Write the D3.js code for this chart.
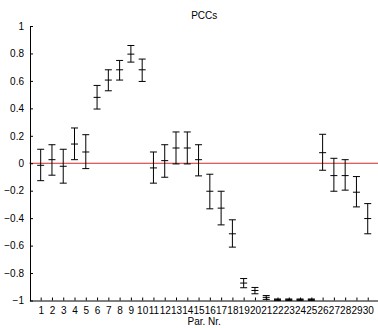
<!DOCTYPE html>
<html>
<head>
<meta charset="utf-8">
<script src="https://cdn.jsdelivr.net/npm/d3@7"></script>
<style>
  html, body { margin: 0; padding: 0; background: #fff; }
  svg { display: block; }
  text { font-family: "Liberation Sans", Arial, sans-serif; fill: #000; }
</style>
</head>
<body>
<svg id="chart" width="378" height="328"></svg>
<script>
const params = d3.range(1, 31);
const means = [-0.015, 0.026, -0.022, 0.140, 0.082, 0.480, 0.606, 0.681, 0.795, 0.681,
               -0.034, 0.019, 0.111, 0.111, 0.026, -0.204, -0.327, -0.514, -0.873, -0.927,
               -0.977, -0.994, -0.994, -0.994, -0.994, 0.077, -0.090, -0.090, -0.211, -0.403];
const upper = [0.102, 0.135, 0.102, 0.257, 0.208, 0.567, 0.681, 0.749, 0.858, 0.759,
               0.082, 0.135, 0.228, 0.228, 0.135, -0.080, -0.204, -0.412, -0.840, -0.905,
               -0.964, -0.989, -0.989, -0.989, -0.989, 0.211, 0.036, 0.026, -0.097, -0.294];
const lower = [-0.127, -0.087, -0.145, 0.026, -0.039, 0.395, 0.528, 0.606, 0.737, 0.596,
               -0.145, -0.102, -0.005, -0.005, -0.092, -0.332, -0.449, -0.611, -0.907, -0.951,
               -0.992, -0.999, -0.999, -0.999, -0.999, -0.051, -0.204, -0.196, -0.318, -0.514];
const yTicks = [-1, -0.8, -0.6, -0.4, -0.2, 0, 0.2, 0.4, 0.6, 0.8, 1];
const title = "PCCs";
const xLabel = "Par. Nr.";

const svg = d3.select("#chart");
const x = d3.scaleLinear().domain([0, 31]).range([29.4, 379]);
const y = d3.scaleLinear().domain([-1, 1]).range([300.5, 26]);

// zero reference line
svg.append("line")
  .attr("x1", x(0)).attr("x2", x(31))
  .attr("y1", y(0)).attr("y2", y(0))
  .attr("stroke", "#d42a2a").attr("stroke-width", 1);

// y axis (ticks inward)
const yAxis = d3.axisLeft(y).tickValues(yTicks).tickSizeInner(-3).tickSizeOuter(0)
  .tickPadding(6).tickFormat(d => d === 0 ? "0" : d3.format("")(+d.toFixed(1)));
const gy = svg.append("g").attr("transform", `translate(${x(0) + 0.6},0)`).call(yAxis);
gy.select(".domain").attr("stroke", "#000");
gy.selectAll(".tick line").attr("stroke", "#000");
gy.selectAll("text").attr("font-size", 10).attr("font-family", "Liberation Sans, Arial, sans-serif").attr("fill", "#000");

// x axis (ticks inward)
const xAxis = d3.axisBottom(x).tickValues(params).tickSizeInner(-3).tickSizeOuter(0)
  .tickPadding(6).tickFormat(d3.format("d"));
const gx = svg.append("g").attr("transform", `translate(0,${y(-1)})`).call(xAxis);
gx.select(".domain").attr("stroke", "#000");
gx.selectAll(".tick line").attr("stroke", "#000");
gx.selectAll("text").attr("font-size", 10).attr("font-family", "Liberation Sans, Arial, sans-serif").attr("fill", "#000");

// error bars
const cap = 3.5;
const bars = svg.append("g").attr("stroke", "#000").attr("stroke-width", 1);
params.forEach((p, i) => {
  const cx = x(p);
  const g = bars.append("g");
  g.append("line").attr("x1", cx).attr("x2", cx).attr("y1", y(upper[i])).attr("y2", y(lower[i]));
  g.append("line").attr("x1", cx - cap).attr("x2", cx + cap).attr("y1", y(upper[i])).attr("y2", y(upper[i]));
  g.append("line").attr("x1", cx - cap).attr("x2", cx + cap).attr("y1", y(lower[i])).attr("y2", y(lower[i]));
  g.append("line").attr("x1", cx - cap).attr("x2", cx + cap).attr("y1", y(means[i])).attr("y2", y(means[i]));
});

// title and x label
const cxPlot = (x(0) + x(31)) / 2;
svg.append("text").attr("x", cxPlot).attr("y", 19).attr("text-anchor", "middle")
  .attr("font-size", 10).text(title);
svg.append("text").attr("x", cxPlot).attr("y", 325).attr("text-anchor", "middle")
  .attr("font-size", 10).text(xLabel);
</script>
</body>
</html>
